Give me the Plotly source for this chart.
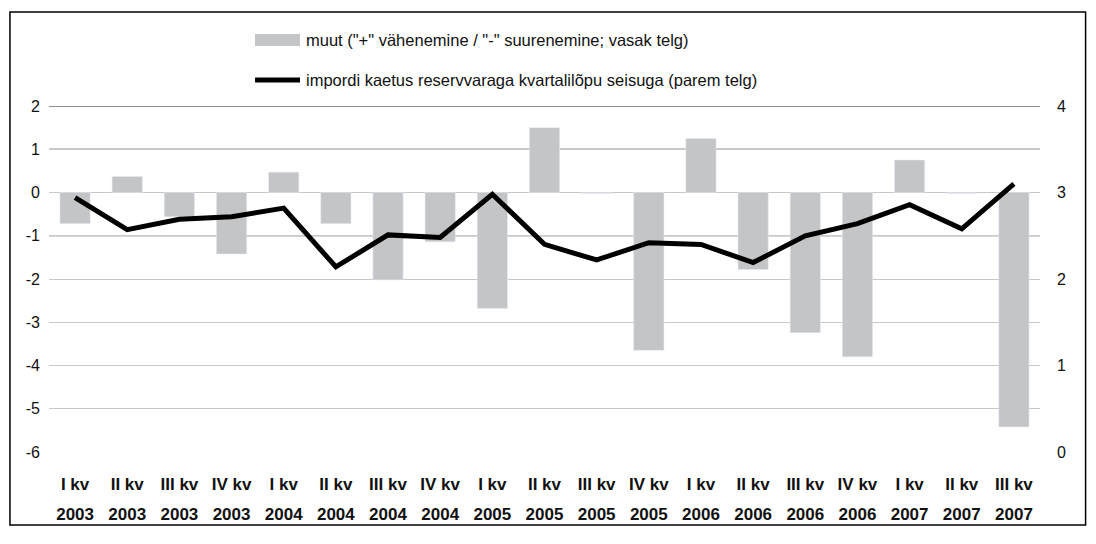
import plotly.graph_objects as go

# quarters 2003 Q1 .. 2007 Q3
quarters = ["I kv", "II kv", "III kv", "IV kv", "I kv", "II kv", "III kv", "IV kv",
            "I kv", "II kv", "III kv", "IV kv", "I kv", "II kv", "III kv", "IV kv",
            "I kv", "II kv", "III kv"]
years = ["2003", "2003", "2003", "2003", "2004", "2004", "2004", "2004",
         "2005", "2005", "2005", "2005", "2006", "2006", "2006", "2006",
         "2007", "2007", "2007"]
categories = [f"{q} {y}" for q, y in zip(quarters, years)]

# muut ("+" vähenemine / "-" suurenemine), left axis
muut = [-0.72, 0.37, -0.56, -1.42, 0.47, -0.72, -2.02, -1.14, -2.68, 1.5,
        -0.02, -3.65, 1.25, -1.78, -3.24, -3.8, 0.75, -0.02, -5.42]
# impordi kaetus reservvaraga, right axis
kaetus = [2.94, 2.57, 2.69, 2.72, 2.82, 2.14, 2.51, 2.48, 2.98, 2.40,
          2.22, 2.42, 2.40, 2.19, 2.50, 2.64, 2.86, 2.58, 3.10]

left_ticks = [2, 1, 0, -1, -2, -3, -4, -5, -6]
right_ticks = [0, 1, 2, 3, 4]
dark_grid = {2: "#222222", 1: "#222222", 0: "#222222", -1: "#666666"}

legend_labels = ['muut ("+" vähenemine / "-" suurenemine; vasak telg)',
                 "impordi kaetus reservvaraga kvartalilõpu seisuga (parem telg)"]

FONT = "Liberation Sans, Arial, sans-serif"
GRAY = "#c4c5c7"
TXT = "#111111"

fig = go.Figure()
fig.add_trace(go.Bar(x=categories, y=muut, marker_color=GRAY, name=legend_labels[0],
                     showlegend=False))
fig.add_trace(go.Scatter(x=categories, y=kaetus, yaxis="y2", mode="lines",
                         line=dict(color="black", width=5), name=legend_labels[1],
                         showlegend=False))
# empty trace so the year axis gets drawn
fig.add_trace(go.Scatter(x=[None], y=[None], xaxis="x2", showlegend=False, hoverinfo="skip"))

shapes = []
for v, c in dark_grid.items():
    shapes.append(dict(type="line", xref="paper", x0=0, x1=1, yref="y", y0=v, y1=v,
                       line=dict(color=c, width=1), layer="below"))
# outer frame
shapes.append(dict(type="rect", xref="paper", yref="paper", x0=-0.0394, x1=1.046,
                   y0=-0.211, y1=1.272, line=dict(color="black", width=1.5)))
# legend swatches
shapes.append(dict(type="rect", xref="paper", yref="paper", x0=0.2079, x1=0.2533,
                   y0=1.1734, y1=1.2081, line=dict(width=0), fillcolor=GRAY))
shapes.append(dict(type="line", xref="paper", yref="paper", x0=0.2079, x1=0.2533,
                   y0=1.0751, y1=1.0751, line=dict(color="black", width=5)))

annotations = [
    dict(text=legend_labels[0], xref="paper", yref="paper", x=0.2573, y=1.1908,
         xanchor="left", yanchor="middle", showarrow=False,
         font=dict(family=FONT, size=16.5, color=TXT)),
    dict(text=legend_labels[1], xref="paper", yref="paper", x=0.2573, y=1.0751,
         xanchor="left", yanchor="middle", showarrow=False,
         font=dict(family=FONT, size=16.5, color=TXT)),
]

# page body adds an 8px margin, so the figure is laid out 8px up/left of target
fig.update_layout(
    width=1088, height=536,
    margin=dict(l=41, r=56, t=98, b=92),
    paper_bgcolor="white", plot_bgcolor="white",
    font=dict(family=FONT, size=16, color=TXT),
    bargap=0.42,
    xaxis=dict(type="category", tickvals=categories, ticktext=quarters,
               showgrid=False, showline=False, ticks="", ticklabelstandoff=20,
               tickfont=dict(family=FONT, size=17, color=TXT, weight="bold")),
    xaxis2=dict(overlaying="x", side="bottom", range=[-0.5, len(years) - 0.5],
                tickvals=list(range(len(years))), ticktext=years,
                showgrid=False, showline=False, zeroline=False, ticks="",
                ticklabelstandoff=50,
                tickfont=dict(family=FONT, size=17, color=TXT, weight="bold")),
    yaxis=dict(range=[-6, 2], tickvals=left_ticks, ticktext=[str(t) for t in left_ticks],
               showgrid=True, gridcolor="#c8c8c8", gridwidth=1, zeroline=False,
               ticks="", ticklabelstandoff=8,
               tickfont=dict(family=FONT, size=16, color=TXT)),
    yaxis2=dict(range=[0, 4], tickvals=right_ticks, overlaying="y", side="right",
                showgrid=False, zeroline=False, ticks="", ticklabelstandoff=16,
                tickfont=dict(family=FONT, size=16, color=TXT)),
    shapes=shapes,
    annotations=annotations,
)

fig.write_html("out.html")
